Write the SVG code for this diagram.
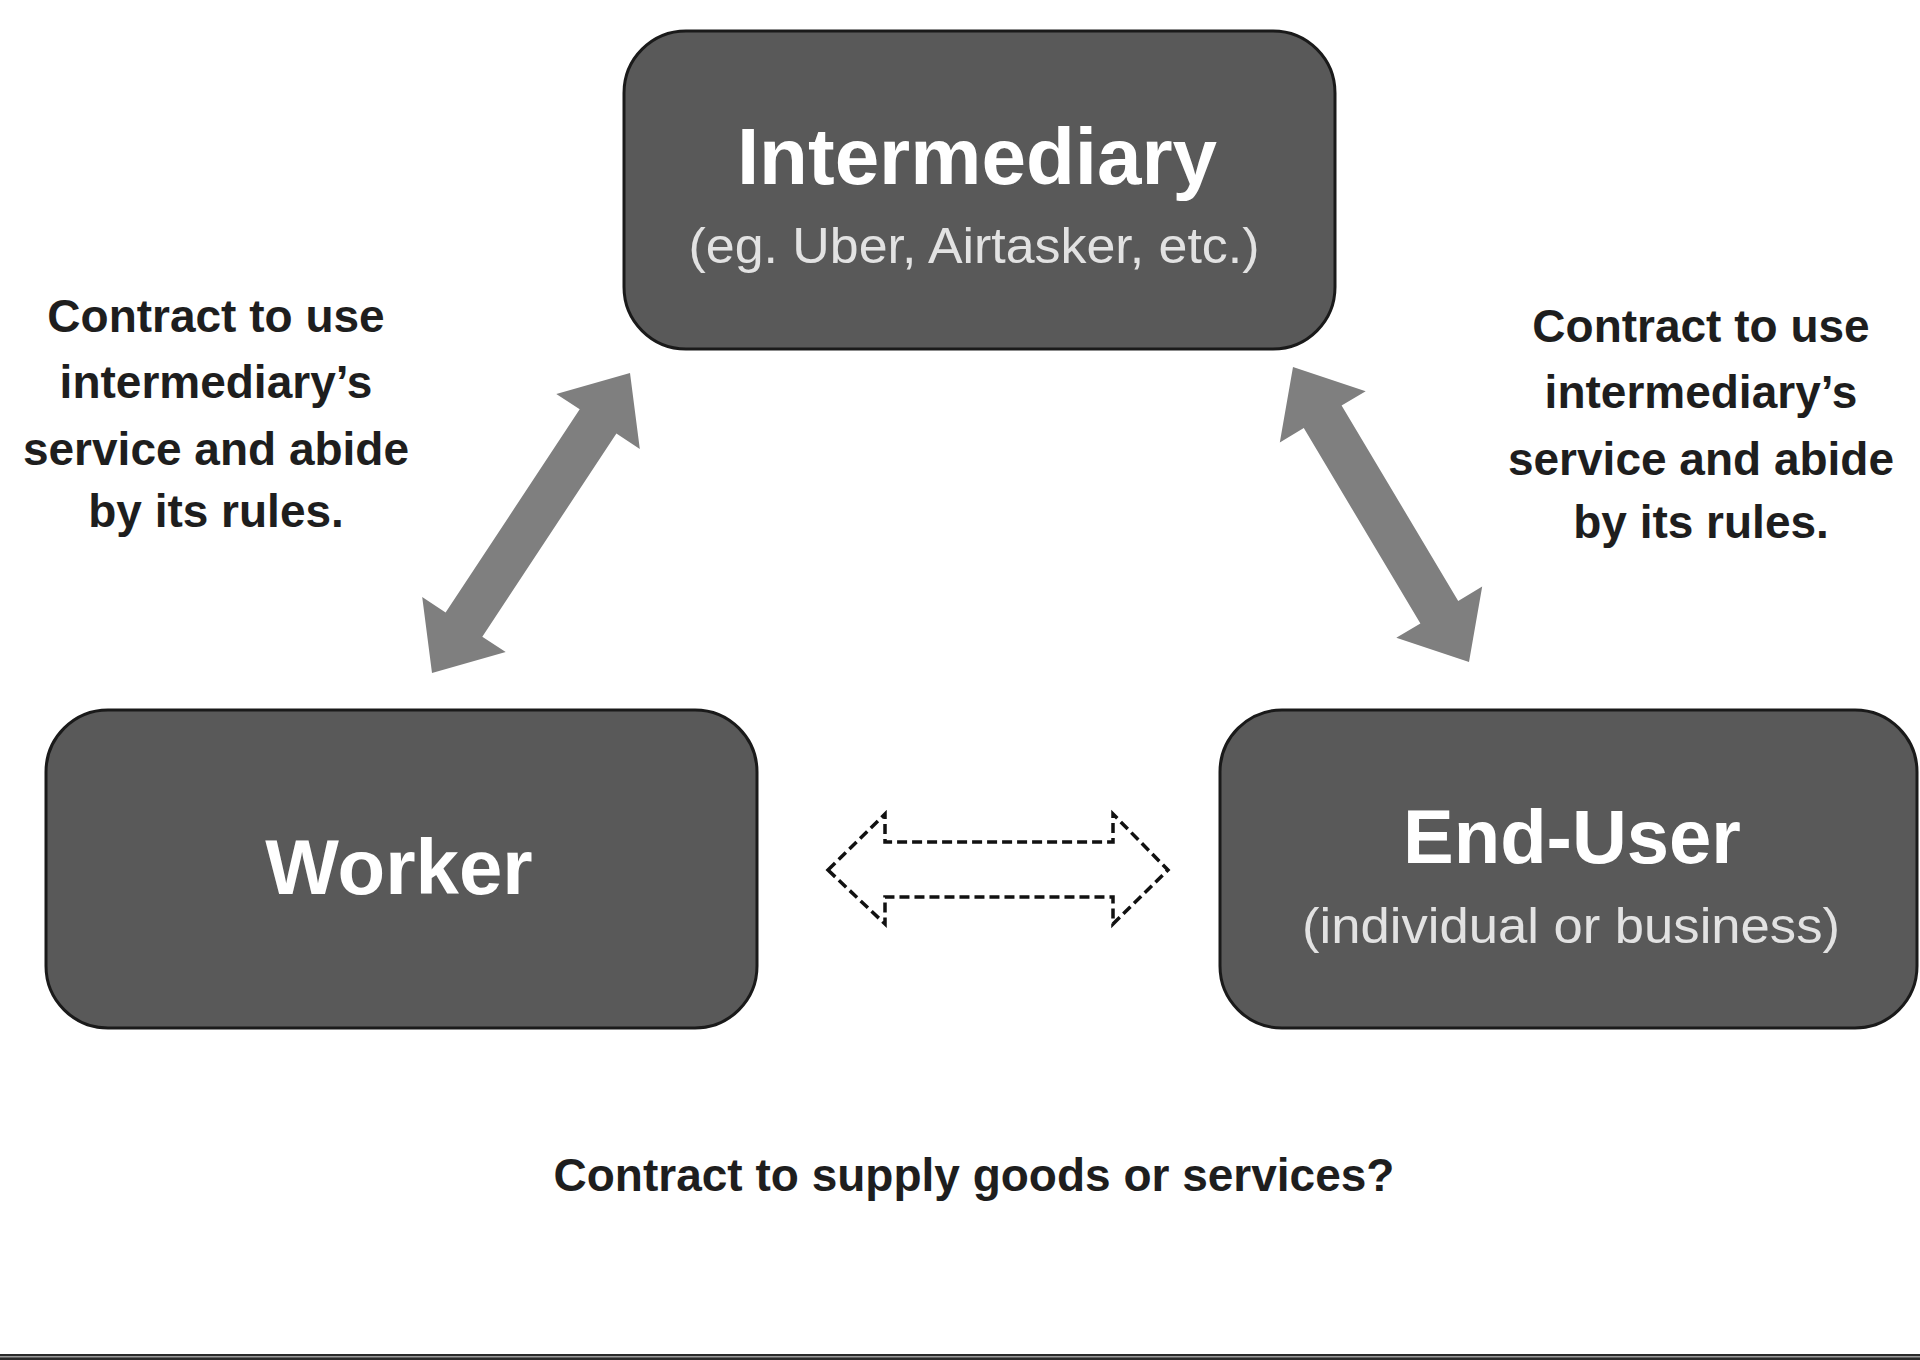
<svg xmlns="http://www.w3.org/2000/svg" width="1920" height="1360" viewBox="0 0 1920 1360">
  <style>
    .box { fill: #595959; stroke: #1a1a1a; stroke-width: 3; }
    .title { font-family: "Liberation Sans", Arial, sans-serif; font-weight: bold; fill: #ffffff; text-anchor: middle; }
    .sub { font-family: "Liberation Sans", Arial, sans-serif; fill: #e2e2e2; text-anchor: middle; font-size: 50px; }
    .note { font-family: "Liberation Sans", Arial, sans-serif; font-weight: bold; fill: #1e1e1e; text-anchor: middle; font-size: 46px; }
    .solid { fill: #7f7f7f; stroke: none; }
    .dashed { fill: #ffffff; stroke: #111111; stroke-width: 3.5; stroke-dasharray: 10 5; stroke-linejoin: miter; }
  </style>
  <rect x="0" y="0" width="1920" height="1360" fill="#ffffff"/>

  <g id="connectors">
    <polygon class="solid" points="630,373 639.8,449 616.4,433.5 482.3,636.7 505.7,652.1 432,673 422.2,597 445.6,612.5 579.7,409.3 556.3,393.9"/>
    <polygon class="solid" points="1293,367 1365.7,391.2 1341.6,405.5 1458.2,600.9 1482.2,586.6 1469,662 1396.3,637.8 1420.4,623.5 1303.8,428.1 1279.8,442.4"/>
    <polygon class="dashed" points="828,870 885,814 885,842 1113,842 1113,814 1168,870 1113,924 1113,897 885,897 885,924"/>
  </g>

  <g id="intermediary">
    <rect class="box" x="624" y="31" width="711" height="318" rx="62" ry="62"/>
    <text class="title" x="977" y="184" font-size="80">Intermediary</text>
    <text class="sub" x="974" y="263" textLength="571" lengthAdjust="spacingAndGlyphs">(eg. Uber, Airtasker, etc.)</text>
  </g>

  <g id="worker">
    <rect class="box" x="46" y="710" width="711" height="318" rx="62" ry="62"/>
    <text class="title" x="399" y="894" font-size="78">Worker</text>
  </g>

  <g id="end-user">
    <rect class="box" x="1220" y="710" width="697" height="318" rx="62" ry="62"/>
    <text class="title" x="1572" y="863" font-size="76">End-User</text>
    <text class="sub" x="1571" y="943" textLength="538" lengthAdjust="spacingAndGlyphs">(individual or business)</text>
  </g>

  <g id="label-left">
    <text class="note" x="216" y="332">Contract to use</text>
    <text class="note" x="216" y="398">intermediary’s</text>
    <text class="note" x="216" y="465">service and abide</text>
    <text class="note" x="216" y="527">by its rules.</text>
  </g>

  <g id="label-right">
    <text class="note" x="1701" y="342">Contract to use</text>
    <text class="note" x="1701" y="408">intermediary’s</text>
    <text class="note" x="1701" y="475">service and abide</text>
    <text class="note" x="1701" y="538">by its rules.</text>
  </g>

  <g id="label-bottom">
    <text class="note" x="974" y="1191" font-size="47">Contract to supply goods or services?</text>
  </g>

  <rect x="0" y="1354" width="1920" height="6" fill="#2a2a2a"/>
  <rect x="0" y="1356" width="1920" height="1.5" fill="#9a9a9a"/>
</svg>
